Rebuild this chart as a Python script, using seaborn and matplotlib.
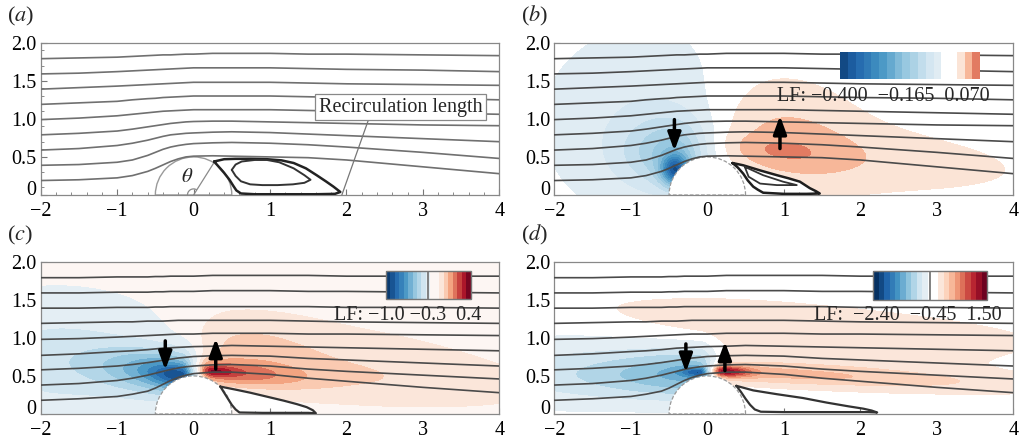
import numpy as np
import pandas as pd
import matplotlib
matplotlib.use("Agg")
import matplotlib.pyplot as plt
from matplotlib.path import Path
from matplotlib.patches import Wedge, Arc
from matplotlib.ticker import MultipleLocator
from matplotlib.transforms import ScaledTranslation
import seaborn as sns

sns.set_theme(style="ticks")
plt.rcParams["font.family"] = ["Liberation Serif", "DejaVu Serif"]
plt.rcParams["mathtext.fontset"] = "stix"

# ---------------------------------------------------------------- streamlines
STREAM_X = [-2.0, -1.5, -1.0, -0.8, -0.6, -0.5, -0.4, -0.3, -0.2, -0.1, 0.0,
            0.25, 0.5, 1.0, 1.5, 2.0, 3.0, 4.0]

STREAM_Y_AB = [
    [0.19, 0.20, 0.225, 0.255, 0.31, 0.35, 0.395, 0.44, 0.475, 0.50, 0.51, 0.515, 0.51, 0.50, 0.49, 0.46, 0.37, 0.28],
    [0.39, 0.40, 0.43, 0.46, 0.52, 0.56, 0.60, 0.63, 0.65, 0.665, 0.675, 0.685, 0.69, 0.68, 0.66, 0.63, 0.56, 0.48],
    [0.59, 0.61, 0.65, 0.68, 0.72, 0.745, 0.77, 0.79, 0.80, 0.81, 0.815, 0.825, 0.83, 0.82, 0.80, 0.78, 0.74, 0.70],
    [0.79, 0.81, 0.84, 0.865, 0.895, 0.91, 0.925, 0.94, 0.95, 0.96, 0.965, 0.97, 0.97, 0.96, 0.95, 0.94, 0.92, 0.91],
    [0.99, 1.01, 1.04, 1.06, 1.08, 1.09, 1.10, 1.105, 1.11, 1.115, 1.12, 1.12, 1.12, 1.12, 1.11, 1.10, 1.08, 1.06],
    [1.19, 1.21, 1.23, 1.25, 1.265, 1.27, 1.28, 1.285, 1.29, 1.295, 1.30, 1.30, 1.30, 1.30, 1.29, 1.28, 1.27, 1.25],
    [1.39, 1.41, 1.43, 1.44, 1.45, 1.455, 1.46, 1.465, 1.47, 1.475, 1.48, 1.48, 1.48, 1.48, 1.47, 1.46, 1.45, 1.44],
    [1.59, 1.60, 1.62, 1.63, 1.64, 1.645, 1.65, 1.655, 1.66, 1.665, 1.67, 1.67, 1.67, 1.67, 1.66, 1.65, 1.64, 1.62],
    [1.79, 1.80, 1.81, 1.82, 1.83, 1.835, 1.84, 1.84, 1.845, 1.85, 1.85, 1.86, 1.86, 1.86, 1.85, 1.85, 1.84, 1.83],
]

STREAM_Y_CD = [
    [0.18, 0.20, 0.23, 0.26, 0.30, 0.34, 0.39, 0.44, 0.48, 0.51, 0.53, 0.55, 0.55, 0.52, 0.47, 0.43, 0.35, 0.28],
    [0.38, 0.40, 0.44, 0.47, 0.51, 0.535, 0.56, 0.585, 0.605, 0.62, 0.63, 0.645, 0.65, 0.63, 0.59, 0.56, 0.51, 0.46],
    [0.58, 0.60, 0.63, 0.65, 0.675, 0.69, 0.705, 0.72, 0.735, 0.745, 0.755, 0.765, 0.77, 0.76, 0.73, 0.71, 0.67, 0.63],
    [0.77, 0.79, 0.82, 0.83, 0.845, 0.855, 0.865, 0.87, 0.875, 0.88, 0.885, 0.89, 0.90, 0.89, 0.88, 0.87, 0.85, 0.83],
    [0.98, 0.99, 1.01, 1.02, 1.03, 1.035, 1.04, 1.045, 1.05, 1.05, 1.05, 1.06, 1.06, 1.06, 1.05, 1.05, 1.04, 1.03],
    [1.19, 1.20, 1.21, 1.21, 1.22, 1.22, 1.22, 1.225, 1.23, 1.23, 1.23, 1.23, 1.23, 1.23, 1.22, 1.21, 1.20, 1.19],
    [1.39, 1.39, 1.40, 1.40, 1.40, 1.405, 1.405, 1.41, 1.41, 1.41, 1.41, 1.41, 1.41, 1.41, 1.41, 1.40, 1.40, 1.39],
    [1.59, 1.59, 1.60, 1.60, 1.60, 1.605, 1.605, 1.61, 1.61, 1.61, 1.61, 1.62, 1.62, 1.62, 1.61, 1.61, 1.60, 1.59],
    [1.79, 1.79, 1.80, 1.80, 1.80, 1.805, 1.805, 1.81, 1.81, 1.81, 1.81, 1.82, 1.82, 1.82, 1.82, 1.81, 1.81, 1.81],
]

# ------------------------------------------------------ recirculation bubbles
BUBBLE_A_X = [0.27, 0.40, 0.55, 0.75, 0.96, 1.15, 1.31, 1.47, 1.61, 1.73, 1.83, 1.92,
              1.85, 1.60, 1.20, 0.80, 0.62, 0.56, 0.52, 0.47, 0.40, 0.33, 0.27]
BUBBLE_A_Y = [0.44, 0.47, 0.475, 0.475, 0.47, 0.455, 0.42, 0.35, 0.26, 0.18, 0.11, 0.04,
              0.015, 0.01, 0.01, 0.01, 0.02, 0.06, 0.12, 0.20, 0.29, 0.37, 0.44]
CORE_A_X = [0.50, 0.55, 0.63, 0.80, 0.96, 1.12, 1.31, 1.45, 1.53, 1.45, 1.30, 1.10,
            0.90, 0.74, 0.62, 0.55, 0.50]
CORE_A_Y = [0.33, 0.40, 0.44, 0.46, 0.46, 0.43, 0.35, 0.26, 0.20, 0.16, 0.14, 0.13,
            0.13, 0.14, 0.18, 0.25, 0.33]

BUBBLE_B_X = [0.33, 0.47, 0.70, 0.91, 1.06, 1.21, 1.34, 1.42, 1.47, 1.30, 1.00, 0.73,
              0.66, 0.60, 0.53, 0.47, 0.40, 0.33]
BUBBLE_B_Y = [0.42, 0.39, 0.32, 0.26, 0.22, 0.175, 0.09, 0.05, 0.02, 0.015, 0.015, 0.03,
              0.07, 0.11, 0.19, 0.28, 0.36, 0.42]
CORE_B_X = [0.49, 0.73, 0.99, 1.17, 0.91, 0.69, 0.54, 0.49]
CORE_B_Y = [0.37, 0.26, 0.175, 0.13, 0.13, 0.15, 0.24, 0.37]

BUBBLE_C_X = [0.35, 0.55, 0.74, 0.95, 1.18, 1.35, 1.48, 1.56, 1.60, 1.50, 1.20, 0.90,
              0.60, 0.55, 0.50, 0.45, 0.40, 0.35]
BUBBLE_C_Y = [0.36, 0.32, 0.28, 0.23, 0.175, 0.13, 0.09, 0.05, 0.01, 0.015, 0.015, 0.015,
              0.02, 0.06, 0.12, 0.20, 0.28, 0.36]

BUBBLE_D_X = [0.38, 0.60, 0.91, 1.25, 1.56, 1.85, 2.04, 2.15, 2.22, 2.10, 1.80, 1.40,
              1.00, 0.70, 0.62, 0.56, 0.50, 0.44, 0.38]
BUBBLE_D_Y = [0.37, 0.31, 0.26, 0.21, 0.15, 0.10, 0.07, 0.045, 0.02, 0.025, 0.025, 0.025,
              0.025, 0.03, 0.06, 0.12, 0.20, 0.29, 0.37]

# --------------------------------------------- lift-force density components
# each row: amplitude, x0, y0, width left, width right, height, slope of axis
LF_B = [
    (-0.045, -0.80, 0.95, 1.30, 1.10, 1.20, 0.0),
    (-0.130, -0.40, 0.55, 0.65, 0.40, 0.45, 0.0),
    (-0.280, -0.42, 0.32, 0.18, 0.18, 0.20, 0.0),
    (0.040, 0.90, 0.85, 0.90, 1.10, 0.75, -0.10),
    (0.030, 1.80, 0.50, 1.40, 2.50, 0.45, -0.08),
    (0.024, 0.80, 0.58, 0.70, 0.75, 0.19, -0.10),
]
LF_C = [
    (-0.190, -1.80, 0.70, 1.20, 1.50, 0.80, 0.0),
    (-0.600, -0.15, 0.52, 1.00, 0.20, 0.30, -0.10),
    (-0.400, -0.15, 0.50, 0.40, 0.12, 0.15, -0.10),
    (0.090, 0.50, 0.85, 0.60, 1.00, 0.50, -0.10),
    (0.070, 1.80, 0.70, 1.60, 2.60, 0.60, -0.10),
    (0.035, 2.50, 0.45, 1.50, 2.50, 0.30, -0.07),
    (0.220, 0.20, 0.56, 0.30, 1.10, 0.16, -0.07),
    (0.150, 0.25, 0.56, 0.12, 0.25, 0.06, -0.05),
]
LF_D = [
    (-0.380, -2.00, 0.55, 1.50, 1.30, 0.42, 0.03),
    (-1.200, -0.10, 0.53, 1.30, 0.20, 0.32, 0.02),
    (-1.100, -0.10, 0.55, 0.25, 0.10, 0.07, 0.0),
    (0.180, 0.50, 1.25, 2.20, 4.00, 0.27, -0.07),
    (0.160, 1.20, 0.85, 1.40, 3.00, 0.45, -0.10),
    (0.450, 0.20, 0.56, 0.30, 3.40, 0.14, -0.045),
    (1.050, 0.20, 0.56, 0.12, 0.34, 0.065, -0.03),
]

# colour scale limits printed under each bar
LF_LIMITS_B = (-0.400, -0.165, 0.070)
LF_LIMITS_C = (-1.0, -0.3, 0.4)
LF_LIMITS_D = (-2.40, -0.45, 1.50)
LF_TEXT_B = "LF: \u22120.400  \u22120.165  0.070"
LF_TEXT_C = "LF: \u22121.0 \u22120.3  0.4"
LF_TEXT_D = "LF:  \u22122.40  \u22120.45  1.50"

# lift arrows: x, tail y, head y
ARROWS_B = [(-0.43, 0.99, 0.58), (0.95, 0.61, 1.04)]
ARROWS_C = [(-0.37, 0.96, 0.58), (0.29, 0.59, 0.99)]
ARROWS_D = [(-0.28, 0.92, 0.55), (0.23, 0.57, 0.95)]

# ------------------------------------------------------------------- helpers
GX, GY = np.meshgrid(np.linspace(-2, 4, 721), np.linspace(0, 2, 241))


def lf_field(components, bubble_x, bubble_y):
    z = np.zeros_like(GX)
    for amp, x0, y0, sxl, sxr, sy, slope in components:
        sx = np.where(GX < x0, sxl, sxr)
        yc = y0 + slope * (GX - x0)
        z += amp * np.exp(-((GX - x0) / sx) ** 2 - ((GY - yc) / sy) ** 2)
    z[np.hypot(GX, GY) < 0.5] = np.nan
    inside = Path(np.column_stack([bubble_x, bubble_y])).contains_points(
        np.column_stack([GX.ravel(), GY.ravel()])).reshape(GX.shape)
    z[inside] = np.nan
    return z


def bands(vmin, vmax, zero, n_neg, n_pos, t_neg, t_pos, zero_color):
    cmap = sns.color_palette("RdBu_r", as_cmap=True)
    edges = ([-100.0] + list(np.linspace(vmin, -zero, n_neg)) + [0.0]
             + list(np.linspace(zero, vmax, n_pos)) + [100.0])
    cols = ([cmap(t) for t in np.linspace(t_neg[0], t_neg[1], n_neg)]
            + [zero_color, zero_color]
            + [cmap(t) for t in np.linspace(t_pos[0], t_pos[1], n_pos)])
    return edges, cols


def style_axes(ax, fig):
    ax.set_xlim(-2, 4)
    ax.set_ylim(0, 2)
    ax.set_xticks(range(-2, 5))
    ax.set_xticklabels(["\u22122", "\u22121", "0", "1", "2", "3", "4"])
    ax.set_yticks([0, 0.5, 1.0, 1.5, 2.0])
    ax.set_yticklabels(["0", "0.5", "1.0", "1.5", "2.0"])
    ax.xaxis.set_minor_locator(MultipleLocator(0.2))
    ax.yaxis.set_minor_locator(MultipleLocator(0.1))
    ax.tick_params(which="both", direction="in", colors="#777777",
                   labelcolor="black", labelsize=14.5)
    ax.tick_params(axis="x", pad=5)
    ax.tick_params(axis="y", pad=3)
    ax.tick_params(which="major", length=4, width=0.8)
    ax.tick_params(which="minor", length=2.5, width=0.6)
    for s in ax.spines.values():
        s.set_visible(True)
        s.set_color("#888888")
        s.set_linewidth(0.9)
    ax.set_xlabel("")
    ax.set_ylabel("")
    lbl = ax.get_yticklabels()[0]
    lbl.set_transform(lbl.get_transform() + ScaledTranslation(0, 5 / 72, fig.dpi_scale_trans))


def draw_streamlines(ax, ys, color, lw):
    n = len(ys)
    df = pd.DataFrame({
        "x": np.tile(STREAM_X, n),
        "y": np.concatenate(ys),
        "line": np.repeat(np.arange(n), len(STREAM_X)),
    })
    sns.lineplot(data=df, x="x", y="y", units="line", estimator=None, sort=False,
                 color=color, lw=lw, ax=ax, legend=False, zorder=3)


def draw_loop(ax, xs, ys, color, lw):
    ax.plot(xs, ys, color=color, lw=lw, zorder=4, solid_joinstyle="round")


def draw_arrows(ax, arrows):
    for x, y0, y1 in arrows:
        ax.annotate("", xy=(x, y1), xytext=(x, y0), zorder=6,
                    arrowprops=dict(arrowstyle="-|>,head_width=0.33,head_length=0.9",
                                    lw=2.5, color="black", shrinkA=0, shrinkB=0,
                                    mutation_scale=12))


def lf_panel(ax, comps, bx, by, edges, cols, cbar_rect, text, text_pos, bar_outline):
    z = lf_field(comps, bx, by)
    cs = ax.contourf(GX, GY, z, levels=edges, colors=cols, zorder=1)
    ax.add_patch(Wedge((0, 0), 0.5, 0, 180, facecolor="white", edgecolor="#9a9a9a",
                       lw=0.9, ls=(0, (3, 1.5)), zorder=2))
    cax = ax.inset_axes(cbar_rect, zorder=7)
    cb = plt.gcf().colorbar(cs, cax=cax, orientation="horizontal", spacing="uniform")
    cb.set_ticks([])
    cax.tick_params(which="both", length=0)
    if bar_outline:
        cb.outline.set_edgecolor("#777777")
        cb.outline.set_linewidth(1.0)
        cax.plot([0.5, 0.5], [0, 1], transform=cax.transAxes, color="#777777", lw=1.3)
    else:
        cb.outline.set_visible(False)
    ax.text(text_pos[0], text_pos[1], text, transform=ax.transAxes, ha="right",
            va="center", fontsize=14.5, zorder=8)


# -------------------------------------------------------------------- figure
fig = plt.figure(figsize=(10.2, 4.38), dpi=100)
W, H = 1020.0, 438.0
rects = {
    "a": [40.7 / W, 1 - 195 / H, 458.6 / W, 152.3 / H],
    "b": [554.3 / W, 1 - 195 / H, 459.0 / W, 152.3 / H],
    "c": [40.7 / W, 1 - 414 / H, 458.6 / W, 152.3 / H],
    "d": [554.3 / W, 1 - 414 / H, 459.0 / W, 152.3 / H],
}
axes = {k: fig.add_axes(r) for k, r in rects.items()}

# (a) base flow
ax = axes["a"]
ax.set_facecolor("white")
ax.add_patch(Wedge((0, 0), 0.5, 0, 180, facecolor="none", edgecolor="#9a9a9a",
                   lw=1.0, zorder=2))
draw_streamlines(ax, STREAM_Y_AB, "#707070", 1.2)
draw_loop(ax, BUBBLE_A_X, BUBBLE_A_Y, "#222222", 1.8)
draw_loop(ax, CORE_A_X, CORE_A_Y, "#333333", 1.4)
ax.plot([0, 0.27], [0, 0.43], color="#8a8a8a", lw=0.9, zorder=3)
ax.add_patch(Arc((0, 0), 0.16, 0.16, theta1=58, theta2=180, color="#8a8a8a", lw=0.9, zorder=3))
ax.text(-0.08, 0.23, r"$\theta$", fontsize=15, ha="center", va="center", zorder=5)
ax.annotate("Recirculation length", xy=(1.94, 0.0), xytext=(2.71, 1.155),
            fontsize=14.5, ha="center", va="center", zorder=6,
            bbox=dict(boxstyle="square,pad=0.18", fc="white", ec="#888888", lw=0.9),
            arrowprops=dict(arrowstyle="-", color="#777777", lw=0.9,
                            shrinkA=0, shrinkB=0, relpos=(0.31, 0.0)))
style_axes(ax, fig)

# (b)
ax = axes["b"]
edges, cols = bands(LF_LIMITS_B[0], LF_LIMITS_B[2], 0.015, 13, 3, (0.05, 0.44), (0.57, 0.76), "white")
lf_panel(ax, LF_B, BUBBLE_B_X, BUBBLE_B_Y, edges, cols, [0.623, 0.76, 0.305, 0.18],
         LF_TEXT_B, (0.949, 0.65), False)
draw_streamlines(ax, STREAM_Y_AB, "#4a4a4a", 1.2)
draw_loop(ax, BUBBLE_B_X, BUBBLE_B_Y, "#1e1e1e", 1.8)
draw_loop(ax, CORE_B_X, CORE_B_Y, "#333333", 1.3)
draw_arrows(ax, ARROWS_B)
style_axes(ax, fig)

# (c)
ax = axes["c"]
edges, cols = bands(LF_LIMITS_C[0], LF_LIMITS_C[2], 0.04, 10, 7, (0.02, 0.45), (0.56, 0.98), "#fdf6f3")
lf_panel(ax, LF_C, BUBBLE_C_X, BUBBLE_C_Y, edges, cols, [0.752, 0.755, 0.186, 0.185],
         LF_TEXT_C, (0.962, 0.645), True)
draw_streamlines(ax, STREAM_Y_CD, "#4a4a4a", 1.2)
draw_loop(ax, BUBBLE_C_X, BUBBLE_C_Y, "#333333", 1.6)
draw_arrows(ax, ARROWS_C)
style_axes(ax, fig)

# (d)
ax = axes["d"]
edges, cols = bands(LF_LIMITS_D[0], LF_LIMITS_D[2], 0.10, 10, 9, (0.0, 0.45), (0.56, 0.99), "white")
lf_panel(ax, LF_D, BUBBLE_D_X, BUBBLE_D_Y, edges, cols, [0.695, 0.75, 0.248, 0.19],
         LF_TEXT_D, (0.975, 0.645), True)
draw_streamlines(ax, STREAM_Y_CD, "#4a4a4a", 1.2)
draw_loop(ax, BUBBLE_D_X, BUBBLE_D_Y, "#333333", 1.6)
draw_arrows(ax, ARROWS_D)
style_axes(ax, fig)

for key, (px, py) in {"a": (7, 16), "b": (521, 16), "c": (7, 235), "d": (521, 235)}.items():
    fig.text(px / W, 1 - py / H, "($%s$)" % key, fontsize=16, ha="left", va="center")

fig.savefig("out.png", dpi=100)
